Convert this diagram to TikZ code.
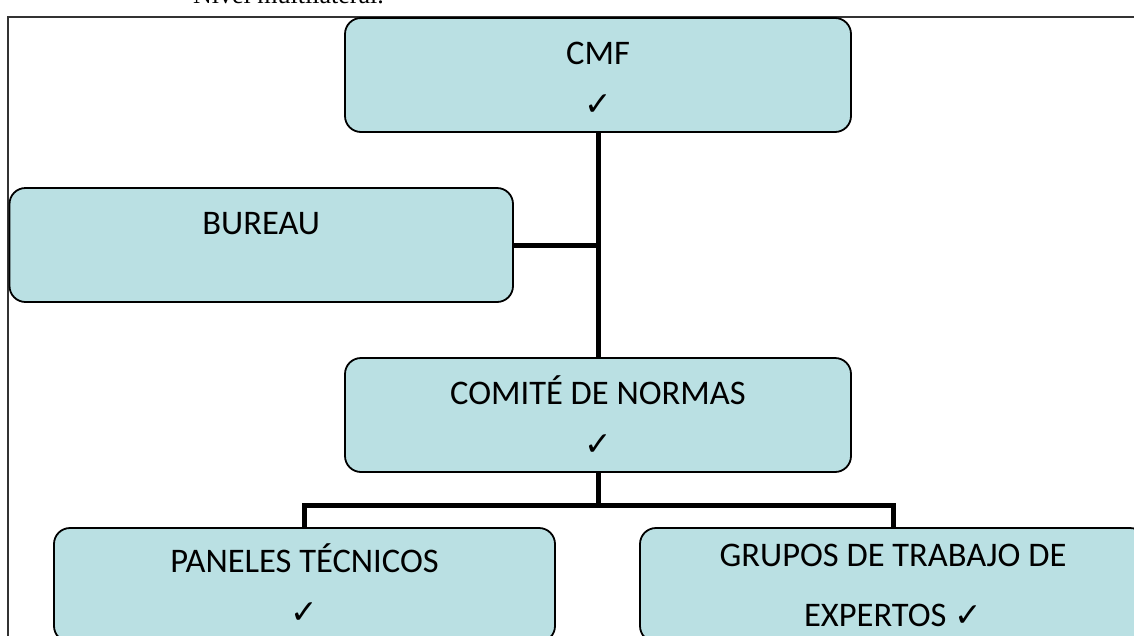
\documentclass[tikz,border=0pt]{standalone}
\usepackage{fontspec}
\setmainfont{Carlito}
\newfontfamily\serifnote{Liberation Serif}
\newfontfamily\symfnt{DejaVu Sans}
\newcommand\chk{{\symfnt\fontsize{33}{33}\selectfont ✓}}
\definecolor{boxblue}{RGB}{186,224,227}
\begin{document}
\begin{tikzpicture}[x=1pt,y=-1pt,
  orgbox/.style={draw=black, line width=1.8pt, fill=boxblue, rounded corners=16pt,
    minimum width=506pt, minimum height=114pt, inner sep=0pt},
  boxtext/.style={inner sep=0pt, align=center, font=\fontsize{34.5}{51}\selectfont},
  conn/.style={draw=black, line width=5pt},
  frame/.style={draw=black!80, line width=1.6pt}]
\useasboundingbox (0,0) rectangle (1134,635);
\begin{scope}
\clip (0,0) rectangle (1134,635);
\fill[white] (0,0) rectangle (1134,635);
\node[anchor=base west, inner sep=0pt, font=\serifnote\fontsize{26}{26}\selectfont] (title) at (193,3) {Nivel multilateral.};
\draw[frame] (8,17) rectangle (1150,650);
\node[orgbox] (cmf) at (598,75) {};
\node[boxtext, yshift=-4pt] (cmft) at (cmf) {CMF\\\chk};
\node[orgbox, minimum width=503.5pt] (bur) at (261.25,245) {};
\node[boxtext, yshift=-4pt] (burt) at (bur) {BUREAU\\\phantom{\chk}};
\node[orgbox] (com) at (598,415) {};
\node[boxtext, yshift=-1pt] (comt) at (com) {COMITÉ DE NORMAS\\\chk};
\node[orgbox, minimum width=501pt] (pan) at (304.5,585) {};
\node[boxtext, yshift=1pt] (pant) at (pan) {PANELES TÉCNICOS\\\chk};
\node[orgbox] (gru) at (893,585) {};
\node[boxtext, font=\fontsize{34.5}{60}\selectfont, yshift=0pt] (grut) at (gru) {GRUPOS DE TRABAJO DE\\EXPERTOS \chk};
\coordinate (bar) at (598,505);
\draw[conn] (cmf.south) -- (com.north);
\draw[conn] (bur.east) -- (bur.east -| cmf.south);
\draw[conn] (com.south) -- (bar);
\draw[conn] (pan.north) |- (bar) -| (gru.north);
\end{scope}
\end{tikzpicture}
\end{document}
